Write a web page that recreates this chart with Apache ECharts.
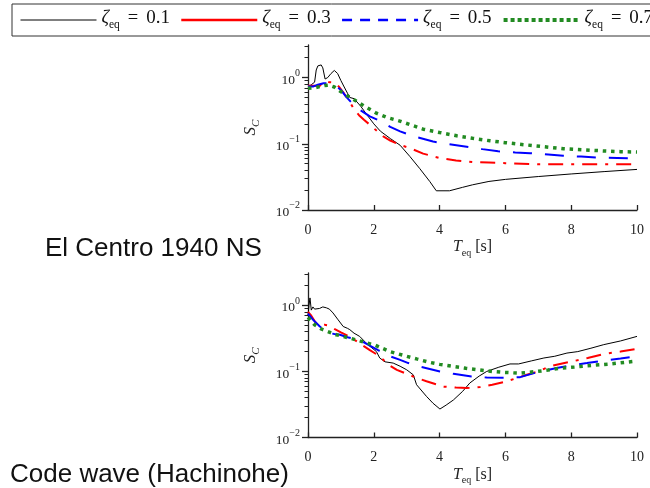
<!DOCTYPE html>
<html><head><meta charset="utf-8">
<script src="https://cdn.jsdelivr.net/npm/echarts@6/dist/echarts.min.js"></script>
<style>html,body{margin:0;padding:0;background:#fff}#c{width:650px;height:488px}</style>
</head><body><div id="c"></div>
<script>
// ---- tick values ----
const xTicks = [0, 2, 4, 6, 8, 10];
const yMajor = [0.01, 0.1, 1];
const yMinor = [0.02,0.03,0.04,0.05,0.06,0.07,0.08,0.09,0.2,0.3,0.4,0.5,0.6,0.7,0.8,0.9,2,3];
const zetaLabels = ['0.1', '0.3', '0.5', '0.7'];
const panelTitles = ['El Centro 1940 NS', 'Code wave (Hachinohe)'];

// ---- El Centro 1940 NS ----
const ec01T = [0,0.1,0.2,0.25,0.3,0.4,0.45,0.52,0.6,0.7,0.8,0.9,1.0,1.1,1.2,1.27,1.33,1.4,1.6,1.8,2.0,2.2,2.5,2.8,3.1,3.4,3.7,3.9,4.3,4.7,5.0,5.5,6.0,7.0,8.0,9.0,10];
const ec01S = [0.72,0.78,0.85,1.3,1.5,1.55,1.4,0.95,1.0,1.15,1.28,1.15,0.9,0.72,0.58,0.5,0.52,0.48,0.37,0.27,0.2,0.155,0.12,0.095,0.064,0.042,0.027,0.0195,0.0195,0.022,0.024,0.027,0.029,0.032,0.035,0.038,0.041];
const ec03T = [0,0.2,0.35,0.5,0.65,0.8,0.95,1.1,1.27,1.4,1.55,1.7,1.9,2.1,2.3,2.5,2.8,3.1,3.5,4.0,4.5,5.0,5.5,6.0,7.0,8.0,9.0,10];
const ec03S = [0.75,0.75,0.74,0.9,0.85,0.84,0.72,0.57,0.43,0.33,0.27,0.23,0.19,0.155,0.128,0.112,0.096,0.086,0.071,0.061,0.056,0.053,0.052,0.051,0.049,0.049,0.049,0.049];
const ec05T = [0,0.15,0.3,0.47,0.65,0.8,1.0,1.15,1.32,1.6,1.88,2.2,2.5,2.8,3.2,3.8,4.3,4.77,5.3,5.78,6.3,6.75,7.3,7.76,8.3,8.77,9.4,10];
const ec05S = [0.73,0.73,0.78,0.82,0.82,0.78,0.65,0.52,0.42,0.32,0.26,0.22,0.18,0.154,0.13,0.108,0.098,0.091,0.083,0.077,0.074,0.072,0.069,0.066,0.064,0.062,0.061,0.06];
const ec07T = [0,0.2,0.36,0.5,0.63,0.8,0.98,1.2,1.44,1.75,2.08,2.4,2.79,3.3,3.5,4.0,4.52,5.0,5.53,6.0,6.55,7.2,7.77,8.4,8.98,9.5,10];
const ec07S = [0.69,0.7,0.73,0.76,0.77,0.72,0.62,0.53,0.45,0.36,0.29,0.25,0.22,0.18,0.166,0.148,0.132,0.121,0.111,0.104,0.097,0.09,0.084,0.081,0.078,0.076,0.075];

// ---- Code wave (Hachinohe) ----
const hc01T = [0,0.03,0.06,0.1,0.15,0.2,0.26,0.35,0.45,0.56,0.65,0.76,0.9,1.07,1.2,1.27,1.4,1.57,1.8,2.08,2.18,2.34,2.59,2.8,3.0,3.2,3.3,3.6,3.8,4.01,4.2,4.42,4.7,4.92,5.2,5.43,5.8,6.14,6.4,6.8,7.17,7.5,7.87,8.2,8.6,8.99,9.5,10];
const hc01S = [0.7,1.0,1.3,0.85,0.95,0.88,0.92,0.9,0.95,0.92,0.88,0.77,0.62,0.48,0.45,0.43,0.38,0.34,0.26,0.2,0.16,0.14,0.134,0.12,0.106,0.089,0.063,0.042,0.033,0.027,0.031,0.037,0.05,0.067,0.085,0.1,0.116,0.13,0.13,0.145,0.16,0.17,0.19,0.2,0.225,0.255,0.29,0.34];
const hc03T = [0,0.05,0.1,0.2,0.3,0.4,0.5,0.6,0.7,0.8,1.0,1.2,1.42,1.65,1.88,2.18,2.44,2.7,3.0,3.2,3.6,4.11,4.5,4.82,5.23,5.6,6.04,6.65,7.0,7.36,7.97,8.5,8.99,9.5,10];
const hc03S = [0.8,0.85,0.7,0.58,0.5,0.5,0.51,0.5,0.47,0.44,0.39,0.35,0.3,0.25,0.21,0.17,0.127,0.106,0.092,0.084,0.071,0.059,0.057,0.056,0.058,0.063,0.071,0.089,0.1,0.12,0.14,0.16,0.184,0.2,0.22];
const hc05T = [0,0.05,0.15,0.36,0.5,0.66,0.8,0.97,1.2,1.57,1.85,2.13,2.49,2.8,3.05,3.45,4.01,4.42,4.97,5.43,5.99,6.45,6.96,7.56,8.0,8.48,8.98,9.5,10];
const hc05S = [0.75,0.72,0.61,0.48,0.43,0.38,0.37,0.36,0.33,0.3,0.25,0.21,0.17,0.15,0.134,0.117,0.1,0.092,0.084,0.081,0.08,0.082,0.097,0.113,0.124,0.134,0.146,0.157,0.17];
const hc07T = [0,0.2,0.4,0.56,0.86,1.27,1.68,2.04,2.49,3.0,3.3,3.71,4.0,4.42,4.8,5.18,5.6,5.94,6.45,6.96,7.3,7.67,8.1,8.48,9.19,10];
const hc07S = [0.66,0.51,0.44,0.41,0.36,0.32,0.28,0.25,0.2,0.17,0.155,0.137,0.128,0.119,0.112,0.106,0.1,0.097,0.094,0.1,0.105,0.112,0.117,0.122,0.13,0.144];

const pairs = (T, S) => T.map((t, i) => [t, S[i]]);
const SERIF = 'Liberation Serif';
const seriesStyles = [
  { color: '#000000', width: 1, type: 'solid' },
  { color: '#ff0000', width: 2, type: [15, 8, 3, 8] },
  { color: '#0000ff', width: 2, type: [19, 13] },
  { color: '#228b22', width: 3.5, type: [3.5, 4.8] }
];
const legendStyles = [
  { color: '#000000', width: 1, type: 'solid' },
  { color: '#ff0000', width: 2.5, type: 'solid' },
  { color: '#0000ff', width: 2.5, type: [10, 8] },
  { color: '#228b22', width: 4, type: [4, 3] }
];
const panels = [
  [pairs(ec01T, ec01S), pairs(ec03T, ec03S), pairs(ec05T, ec05S), pairs(ec07T, ec07S)],
  [pairs(hc01T, hc01S), pairs(hc03T, hc03S), pairs(hc05T, hc05S), pairs(hc07T, hc07S)]
];
const names = zetaLabels.map(z => 'z' + z);

const gridTops = [45, 273];
const gridH = [165, 164.5];
const axisColor = '#222';

const xAxes = [], yAxes = [], series = [], grids = [];
panels.forEach((panel, p) => {
  grids.push({ left: 308, right: 13, top: gridTops[p], height: gridH[p], containLabel: false });
  xAxes.push({
    gridIndex: p, type: 'value', min: 0, max: 10, interval: 2,
    axisLine: { lineStyle: { color: axisColor, width: 1.3 } },
    axisTick: { inside: true, length: 5, lineStyle: { color: axisColor, width: 1.3 }, customValues: xTicks },
    axisLabel: { customValues: xTicks, color: '#222', fontFamily: SERIF, fontSize: 14, margin: 13 },
    splitLine: { show: false },
    name: '{i|T}{s|eq}{t| [s]}', nameLocation: 'middle', nameGap: 29,
    nameTextStyle: {
      rich: {
        i: { fontFamily: SERIF, fontStyle: 'italic', fontSize: 16, color: '#222', verticalAlign: 'bottom', padding: [0, 0, 3, 0] },
        s: { fontFamily: SERIF, fontSize: 10, color: '#222', verticalAlign: 'bottom' },
        t: { fontFamily: SERIF, fontSize: 16, color: '#222', verticalAlign: 'bottom', padding: [0, 0, 3, 0] }
      }
    }
  });
  yAxes.push({
    gridIndex: p, type: 'log', logBase: 10, min: 0.01, max: 3.1, position: 'left',
    axisLine: { lineStyle: { color: axisColor, width: 1.3 } },
    axisTick: { inside: false, length: 6, customValues: yMajor, lineStyle: { color: axisColor, width: 1.3 } },
    axisLabel: {
      customValues: yMajor, margin: 8,
      formatter: v => '{b|10}{p|' + String(Math.round(Math.log10(v))).replace('-', '\u2212') + '}',
      rich: {
        b: { fontFamily: SERIF, fontSize: 13.5, color: '#222', verticalAlign: 'bottom', padding: [5, 0, 0, 0] },
        p: { fontFamily: SERIF, fontSize: 10, color: '#222', verticalAlign: 'top' }
      }
    },
    splitLine: { show: false },
    name: '{i|S}{s|C}', nameLocation: 'middle', nameGap: 46, nameRotate: 90,
    nameTextStyle: {
      rich: {
        i: { fontFamily: SERIF, fontStyle: 'italic', fontSize: 17, color: '#222', verticalAlign: 'bottom', padding: [0, 0, 3, 0] },
        s: { fontFamily: SERIF, fontStyle: 'italic', fontSize: 11, color: '#222', verticalAlign: 'bottom' }
      }
    }
  });
  panel.forEach((data, k) => {
    const st = seriesStyles[k];
    series.push({
      name: names[k], type: 'line', xAxisIndex: p, yAxisIndex: p,
      data: data, symbol: 'none', showSymbol: false, smooth: false,
      color: st.color,
      lineStyle: { color: st.color, width: st.width, type: st.type, cap: 'butt' },
      animation: false, silent: true
    });
  });
});
// helper grids whose left edge coincides with the main y axis, carrying the minor log ticks
panels.forEach((panel, p) => {
  const gi = grids.length;
  grids.push({ left: 308, width: 58, top: gridTops[p], height: gridH[p], containLabel: false });
  xAxes.push({ gridIndex: gi, type: 'value', min: 0, max: 1, show: false });
  yAxes.push({
    gridIndex: gi, type: 'log', logBase: 10, min: 0.01, max: 3.1, position: 'left',
    axisLine: { show: false },
    axisTick: { show: true, inside: false, length: 3.5, customValues: yMinor, lineStyle: { color: axisColor, width: 1 } },
    axisLabel: { show: false },
    splitLine: { show: false }
  });
});

const legendRich = {
  z: { fontFamily: SERIF, fontStyle: 'italic', fontSize: 18.5, color: '#111', verticalAlign: 'bottom', padding: [0, 0, 3, 0] },
  s: { fontFamily: SERIF, fontSize: 11.5, color: '#111', verticalAlign: 'bottom' },
  e: { fontFamily: SERIF, fontSize: 18.5, color: '#111', verticalAlign: 'bottom', padding: [0, 8, 3, 8] },
  n: { fontFamily: SERIF, fontSize: 19, color: '#111', verticalAlign: 'bottom', padding: [0, 0, 3, 0] }
};

const option = {
  backgroundColor: '#fff',
  animation: false,
  title: panelTitles.map((t, i) => ({
    text: t, left: i === 0 ? 45 : 10, top: i === 0 ? 236 : 462, padding: 0,
    textStyle: { fontFamily: 'Liberation Sans', fontWeight: 'normal', fontSize: 26, color: '#111' }
  })),
  legend: {
    left: 12, top: 4, width: 1000, orient: 'horizontal',
    padding: [5, 8, 5, 8], itemGap: 10, itemWidth: 76, itemHeight: 14,
    borderColor: '#333', borderWidth: 1, borderRadius: 0,
    selectedMode: false,
    data: names.map((n, k) => ({
      name: n,
      lineStyle: { color: legendStyles[k].color, width: legendStyles[k].width, type: legendStyles[k].type, cap: 'butt' },
      itemStyle: { color: 'rgba(0,0,0,0)', borderWidth: 0, opacity: 0 }
    })),
    formatter: n => '{z|\u03b6}{s|eq}{e|=}{n|' + n.slice(1) + '}',
    textStyle: { rich: legendRich }
  },
  grid: grids,
  xAxis: xAxes,
  yAxis: yAxes,
  series: series
};

const chart = echarts.init(document.getElementById('c'), null, { renderer: 'canvas' });
chart.setOption(option);
</script>
</body></html>
